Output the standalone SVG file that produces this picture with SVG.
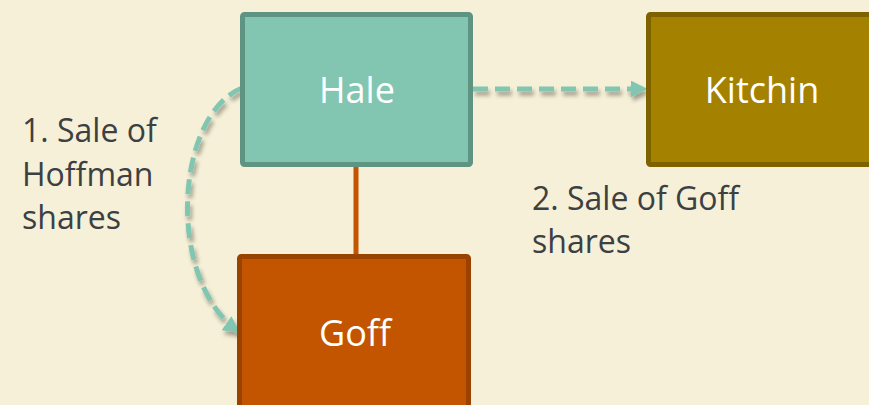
<svg xmlns="http://www.w3.org/2000/svg" width="869" height="405" viewBox="0 0 869 405">
<style>
.node-text{font-family:"Open Sans","Noto Sans",sans-serif;font-size:36px;fill:#FFFFFF;text-anchor:middle}
.label{font-family:"Open Sans","Noto Sans",sans-serif;font-size:32px;fill:#3C4043}
.dash{fill:none;stroke:#82C6B2;stroke-width:5;stroke-dasharray:15 7}
</style>
<defs>
<marker id="arrow" viewBox="0 0 10 10" refX="9" refY="5" markerWidth="3.4" markerHeight="3.4" markerUnits="strokeWidth" orient="auto">
<path d="M0,0 L10,5 L0,10 z" fill="#82C6B2"/>
</marker>
<filter id="shadow" filterUnits="userSpaceOnUse" x="0" y="0" width="869" height="405">
<feGaussianBlur in="SourceAlpha" stdDeviation="2"/>
<feOffset dx="2" dy="4" result="b"/>
<feComponentTransfer><feFuncA type="linear" slope="0.35"/></feComponentTransfer>
<feMerge><feMergeNode/><feMergeNode in="SourceGraphic"/></feMerge>
</filter>
</defs>
<rect width="869" height="405" fill="#F5F0D7"/>
<g id="connectors">
<line x1="356" y1="166" x2="356" y2="256" stroke="#C45500" stroke-width="5"/>
<path class="dash" d="M473,89 L646,89" marker-end="url(#arrow)" filter="url(#shadow)"/>
<path class="dash" d="M242,88 C175,115 165,280 239,332" marker-end="url(#arrow)" filter="url(#shadow)"/>
</g>
<g id="hale">
<rect x="242.5" y="14.5" width="228" height="150" rx="2" fill="#82C6B2" stroke="#5F9483" stroke-width="5"/>
<text class="node-text" x="357" y="103">Hale</text>
</g>
<g id="kitchin">
<rect x="648.5" y="14.5" width="232" height="150" rx="2" fill="#A58100" stroke="#7F6200" stroke-width="5"/>
<text class="node-text" x="762" y="103">Kitchin</text>
</g>
<g id="goff">
<rect x="239.5" y="256.5" width="229" height="160" rx="2" fill="#C45500" stroke="#9A4200" stroke-width="5"/>
<text class="node-text" x="355" y="346">Goff</text>
</g>
<g id="labels">
<text class="label" x="22" y="142">1. Sale of</text>
<text class="label" x="22" y="186">Hoffman</text>
<text class="label" x="22" y="229">shares</text>
<text class="label" x="532" y="210">2. Sale of Goff</text>
<text class="label" x="532" y="253">shares</text>
</g>
</svg>
